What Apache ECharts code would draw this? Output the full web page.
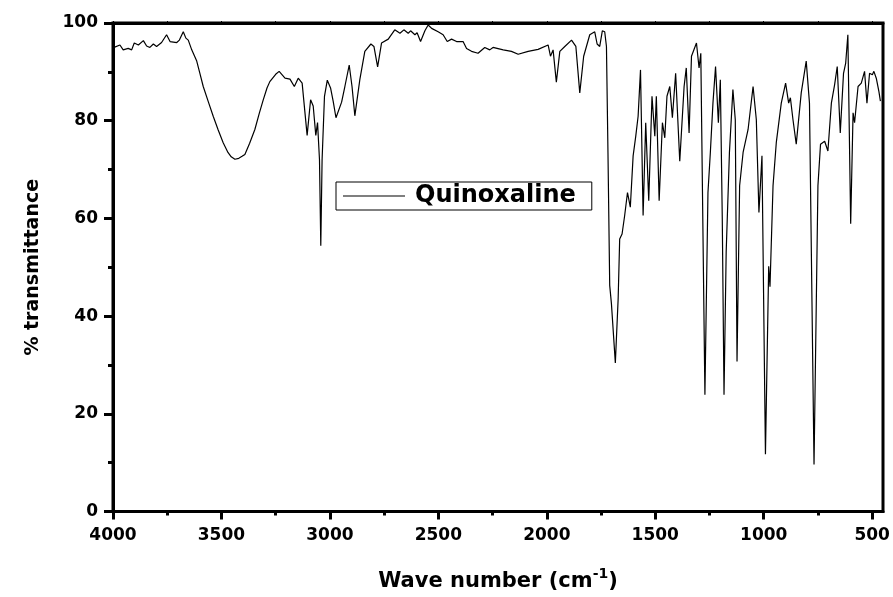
<!DOCTYPE html>
<html><head><meta charset="utf-8">
<script src="https://cdn.jsdelivr.net/npm/echarts@6/dist/echarts.min.js"></script>
<style>html,body{margin:0;padding:0;background:#fff}#c{width:893px;height:597px}</style>
</head><body><div id="c"></div>
<script>
const wavenumbers = [3995,3968,3953,3930,3914,3902,3883,3860,3845,3830,3814,3799,3776,3753,3737,3706,3694,3676,3664,3653,3637,3614,3600,3584,3560,3538,3515,3492,3470,3455,3438,3420,3405,3392,3370,3346,3325,3307,3290,3277,3250,3234,3207,3184,3164,3146,3128,3105,3089,3077,3065,3057,3048,3042,3036,3025,3012,2997,2985,2972,2946,2931,2911,2898,2885,2862,2839,2811,2797,2780,2762,2731,2701,2677,2659,2639,2628,2608,2598,2582,2562,2547,2531,2501,2478,2459,2439,2416,2386,2370,2347,2317,2286,2263,2248,2201,2163,2132,2086,2040,1994,1983,1971,1956,1940,1917,1886,1866,1848,1830,1802,1779,1768,1756,1744,1733,1725,1718,1710,1702,1684,1671,1664,1653,1641,1628,1615,1602,1590,1579,1568,1556,1544,1530,1515,1502,1495,1482,1467,1456,1446,1433,1421,1406,1387,1367,1357,1344,1333,1310,1298,1290,1271,1257,1246,1234,1222,1209,1200,1191,1183,1173,1158,1142,1131,1123,1111,1095,1072,1049,1034,1022,1008,992,977,971,957,942,919,899,885,877,865,850,827,804,789,768,750,738,719,704,688,673,661,647,632,622,612,599,588,581,565,550,535,524,512,499,492,481,469,462];
const transmittance = [95.0,95.5,94.5,94.8,94.5,95.9,95.5,96.4,95.3,95.0,95.7,95.2,96.0,97.6,96.2,96.0,96.5,98.2,96.9,96.5,94.5,92.2,89.8,87.0,83.8,80.9,78.1,75.5,73.5,72.6,72.1,72.3,72.7,73.1,75.4,78.2,81.6,84.3,86.7,88.0,89.5,90.1,88.7,88.5,87.0,88.7,87.7,77.0,84.3,83.0,77.0,79.6,72.0,54.4,72.0,85.0,88.3,86.7,84.0,80.6,83.8,87.0,91.4,87.0,81.0,88.4,94.2,95.7,95.2,91.0,95.9,96.7,98.6,97.9,98.6,97.9,98.4,97.6,98.0,96.2,98.4,99.6,98.9,98.2,97.6,96.2,96.7,96.2,96.2,94.8,94.2,93.8,95.0,94.5,95.0,94.5,94.2,93.6,94.2,94.6,95.5,93.2,94.5,87.9,94.2,95.2,96.5,95.2,85.7,93.2,97.6,98.2,95.7,95.2,98.4,98.2,95.2,73.5,46.3,42.5,30.4,43.6,55.8,56.8,60.6,65.3,62.3,72.8,76.8,80.9,90.4,60.6,79.6,63.6,85.0,76.8,85.0,63.6,79.6,76.5,85.0,87.0,80.6,89.7,71.7,87.0,90.8,77.5,93.2,95.9,90.8,93.8,23.9,65.3,73.5,83.6,91.1,79.6,88.4,59.9,23.9,53.1,73.5,86.4,80.2,30.7,66.7,73.5,78.2,87.0,80.2,61.2,72.8,11.7,50.2,46.0,66.7,75.5,83.6,87.7,83.6,84.7,80.2,75.2,85.7,92.2,83.6,9.6,66.7,75.2,75.8,73.8,83.6,87.4,91.1,77.5,89.7,91.8,97.6,58.9,81.6,79.6,87.0,87.7,90.1,83.6,89.7,89.4,90.1,88.7,86.0,84.0];
const seriesName = 'Quinoxaline';
const xMajorTicks = [4000,3500,3000,2500,2000,1500,1000,500];
const xMinorTicks = [3750,3250,2750,2250,1750,1250,750];
const xAllTicks = [4000,3750,3500,3250,3000,2750,2500,2250,2000,1750,1500,1250,1000,750,500];
const yTicks = [0,20,40,60,80,100];

const FONT = 'DejaVu Sans';
const data = wavenumbers.map((w, i) => [w, transmittance[i]]);
const chart = echarts.init(document.getElementById('c'), null, {renderer: 'canvas'});
const xBase = {type: 'value', min: 450, max: 4000, inverse: true, splitLine: {show: false}};
chart.setOption({
  animation: false,
  backgroundColor: '#fff',
  grid: {left: 113, right: 10, top: 23, bottom: 83, show: true, borderColor: '#000', borderWidth: 3, backgroundColor: 'transparent'},
  legend: {
    data: [seriesName], left: 336, top: 182, orient: 'horizontal',
    icon: 'rect', itemWidth: 62, itemHeight: 1,
    borderColor: '#000', borderWidth: 1, padding: [2, 16, 2, 7],
    textStyle: {fontFamily: FONT, fontWeight: 'bold', fontSize: 24, color: '#000', padding: [0, 0, 0, 5]}
  },
  xAxis: [
    Object.assign({}, xBase, {
      position: 'bottom',
      axisLine: {show: true, onZero: false, lineStyle: {color: '#000', width: 3}},
      axisTick: {show: true, inside: false, length: 8, lineStyle: {width: 3, color: '#000'}, customValues: xMajorTicks},
      axisLabel: {show: true, customValues: xMajorTicks, margin: 16, fontFamily: FONT, fontWeight: 'bold', fontSize: 17, color: '#000',
        formatter: v => String(v)},
      name: '{a|Wave number (cm}{s|-1}{a|)}',
      nameLocation: 'middle', nameGap: 56,
      nameTextStyle: {rich: {
        a: {fontFamily: FONT, fontWeight: 'bold', fontSize: 21, color: '#000'},
        s: {fontFamily: FONT, fontWeight: 'bold', fontSize: 14, color: '#000', padding: [0, 0, 14, 0]}
      }}
    }),
    Object.assign({}, xBase, {
      position: 'bottom',
      axisLine: {show: false, onZero: false},
      axisTick: {show: true, inside: false, length: 4, lineStyle: {width: 3, color: '#000'}, customValues: xMinorTicks},
      axisLabel: {show: false}
    }),
    Object.assign({}, xBase, {
      position: 'top',
      axisLine: {show: true, onZero: false, lineStyle: {color: '#000', width: 3}},
      axisTick: {show: true, inside: false, length: 2, lineStyle: {width: 1, color: '#000'}, customValues: xAllTicks},
      axisLabel: {show: false}
    })
  ],
  yAxis: [{
    type: 'value', min: 0, max: 100, interval: 20, position: 'left',
    axisLine: {show: true, onZero: false, lineStyle: {color: '#000', width: 3}},
    axisTick: {show: true, inside: false, length: 9, lineStyle: {width: 3, color: '#000'}},
    minorTick: {show: true, splitNumber: 2, length: 5, lineStyle: {width: 3, color: '#000'}},
    axisLabel: {margin: 15, fontFamily: FONT, fontWeight: 'bold', fontSize: 17, color: '#000',
      customValues: yTicks},
    splitLine: {show: false},
    name: '% transmittance', nameLocation: 'middle', nameGap: 70, nameRotate: 90,
    nameTextStyle: {fontFamily: FONT, fontWeight: 'bold', fontSize: 19, color: '#000'}
  }],
  series: [{
    name: seriesName, type: 'line', data: data, xAxisIndex: 0, yAxisIndex: 0,
    showSymbol: false, symbol: 'none', smooth: false,
    lineStyle: {color: '#000', width: 1.2}, itemStyle: {color: '#000'}, clip: true
  }]
});
</script></body></html>
